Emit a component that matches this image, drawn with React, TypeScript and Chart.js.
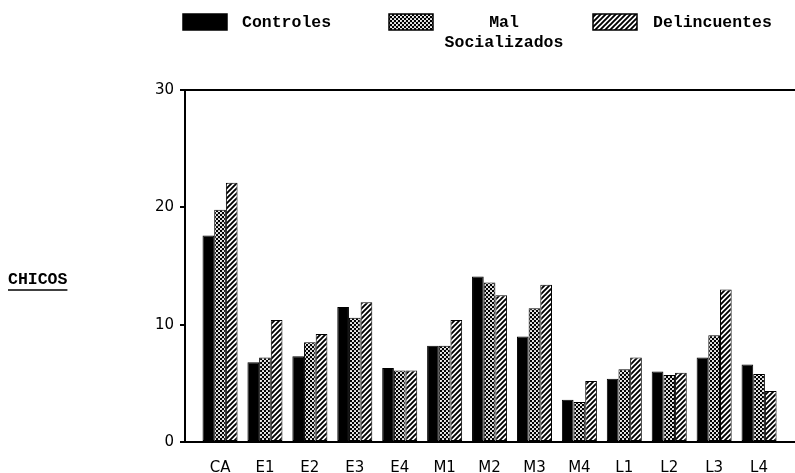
import { useEffect, useRef } from 'react';
import { Chart, registerables } from 'chart.js';

Chart.register(...registerables);

const CATEGORIES = ['CA', 'E1', 'E2', 'E3', 'E4', 'M1', 'M2', 'M3', 'M4', 'L1', 'L2', 'L3', 'L4'];
const CONTROLES = [17.6, 6.8, 7.3, 11.5, 6.3, 8.2, 14.1, 9.0, 3.6, 5.4, 6.0, 7.2, 6.6];
const MAL_SOCIALIZADOS = [19.8, 7.2, 8.5, 10.6, 6.1, 8.2, 13.6, 11.4, 3.4, 6.2, 5.7, 9.1, 5.8];
const DELINCUENTES = [22.1, 10.4, 9.2, 11.9, 6.1, 10.4, 12.5, 13.4, 5.2, 7.2, 5.9, 13.0, 4.35];
const Y_TICKS = [0, 10, 20, 30];
const SERIES_NAMES = ['Controles', 'Mal Socializados', 'Delincuentes'];
const Y_LABEL = 'CHICOS';

function makeCheck(): CanvasPattern | string {
  const c = document.createElement('canvas');
  c.width = 4;
  c.height = 4;
  const g = c.getContext('2d');
  if (!g) return '#555';
  g.fillStyle = '#000';
  g.fillRect(0, 0, 4, 4);
  g.fillStyle = '#fff';
  g.beginPath();
  g.arc(1, 1, 1.05, 0, Math.PI * 2);
  g.fill();
  g.beginPath();
  g.arc(3, 3, 1.05, 0, Math.PI * 2);
  g.fill();
  return g.createPattern(c, 'repeat') || '#555';
}

function makeHatch(): CanvasPattern | string {
  const s = 5;
  const c = document.createElement('canvas');
  c.width = s;
  c.height = s;
  const g = c.getContext('2d');
  if (!g) return '#999';
  g.fillStyle = '#fff';
  g.fillRect(0, 0, s, s);
  g.strokeStyle = '#000';
  g.lineWidth = 1.9;
  g.beginPath();
  g.moveTo(-1, s + 1);
  g.lineTo(s + 1, -1);
  g.moveTo(-1, 1);
  g.lineTo(1, -1);
  g.moveTo(s - 1, s + 1);
  g.lineTo(s + 1, s - 1);
  g.stroke();
  return g.createPattern(c, 'repeat') || '#999';
}

export default function App() {
  const ref = useRef<HTMLCanvasElement | null>(null);

  useEffect(() => {
    const canvas = ref.current;
    if (!canvas) return;
    const check = makeCheck();
    const hatch = makeHatch();
    const fills = ['#000', check, hatch];
    const series = [CONTROLES, MAL_SOCIALIZADOS, DELINCUENTES];
    const mono = '"Liberation Mono", "DejaVu Sans Mono", monospace';

    const overlay = {
      id: 'overlay',
      afterDraw(chart: any) {
        const ctx = chart.ctx as CanvasRenderingContext2D;
        ctx.save();
        const boxes = [
          { x: 183, y: 14, w: 44, h: 16, tx: 242, lines: [SERIES_NAMES[0]], align: 'left' as CanvasTextAlign },
          { x: 389, y: 14, w: 44, h: 16, tx: 504, lines: ['Mal', 'Socializados'], align: 'center' as CanvasTextAlign },
          { x: 593, y: 14, w: 44, h: 16, tx: 653, lines: [SERIES_NAMES[2]], align: 'left' as CanvasTextAlign },
        ];
        boxes.forEach((b, i) => {
          ctx.fillStyle = fills[i] as any;
          ctx.fillRect(b.x, b.y, b.w, b.h);
          ctx.strokeStyle = '#000';
          ctx.lineWidth = 1.5;
          ctx.strokeRect(b.x, b.y, b.w, b.h);
          ctx.fillStyle = '#000';
          ctx.font = 'bold 16.5px ' + mono;
          ctx.textAlign = b.align;
          ctx.textBaseline = 'middle';
          b.lines.forEach((t, j) => ctx.fillText(t, b.tx, 23 + j * 20));
        });
        ctx.font = 'bold 16.5px ' + mono;
        ctx.textAlign = 'left';
        ctx.textBaseline = 'middle';
        ctx.fillText(Y_LABEL, 8, 280);
        const w = ctx.measureText(Y_LABEL).width;
        ctx.lineWidth = 1.5;
        ctx.beginPath();
        ctx.moveTo(8, 290);
        ctx.lineTo(8 + w, 290);
        ctx.stroke();
        ctx.restore();
      },
    };

    const chart = new Chart(canvas, {
      type: 'bar',
      data: {
        datasets: series.map((vals, i) => ({
          label: SERIES_NAMES[i],
          data: vals.map((v, k) => ({ x: k, y: v })),
          backgroundColor: fills[i] as any,
          borderColor: '#000',
          borderWidth: 1,
          borderSkipped: false,
          categoryPercentage: 0.78,
          barPercentage: 1,
        })),
      },
      options: {
        animation: false,
        responsive: false,
        devicePixelRatio: 1,
        layout: { padding: { top: 90, left: 0, right: 0, bottom: 0 } },
        plugins: { legend: { display: false }, tooltip: { enabled: false } },
        scales: {
          x: {
            type: 'linear',
            offset: false,
            min: -0.78,
            max: 12.8,
            afterBuildTicks: (scale: any) => {
              scale.ticks = CATEGORIES.map((_, i) => ({ value: i }));
            },
            afterFit: (scale: any) => {
              scale.height = 31;
            },
            ticks: {
              autoSkip: false,
              maxRotation: 0,
              padding: 9,
              color: '#000',
              font: { family: '"DejaVu Sans", sans-serif', size: 15 },
              callback: (v: any) => CATEGORIES[Math.round(Number(v))] ?? '',
            },
            grid: { display: false, offset: false },
            border: { display: true, color: '#000', width: 2 },
          },
          y: {
            min: 0,
            max: 30,
            afterBuildTicks: (scale: any) => {
              scale.ticks = Y_TICKS.map((v) => ({ value: v }));
            },
            afterFit: (scale: any) => {
              scale.width = 185;
            },
            ticks: {
              padding: 6,
              color: '#000',
              font: { family: '"DejaVu Sans", sans-serif', size: 15 },
            },
            grid: {
              display: true,
              drawOnChartArea: true,
              drawTicks: true,
              tickLength: 5,
              lineWidth: 2,
              tickColor: '#000',
              color: (c: any) => (c.tick && c.tick.value === 30 ? '#000' : 'rgba(0,0,0,0)'),
            },
            border: { display: true, color: '#000', width: 2 },
          },
        },
      },
      plugins: [overlay],
    } as any);

    return () => chart.destroy();
  }, []);

  return (
    <div style={{ position: 'absolute', left: 0, top: 0, width: 795, height: 473, background: '#fff' }}>
      <canvas ref={ref} width={795} height={473} style={{ width: 795, height: 473, display: 'block' }} />
    </div>
  );
}
